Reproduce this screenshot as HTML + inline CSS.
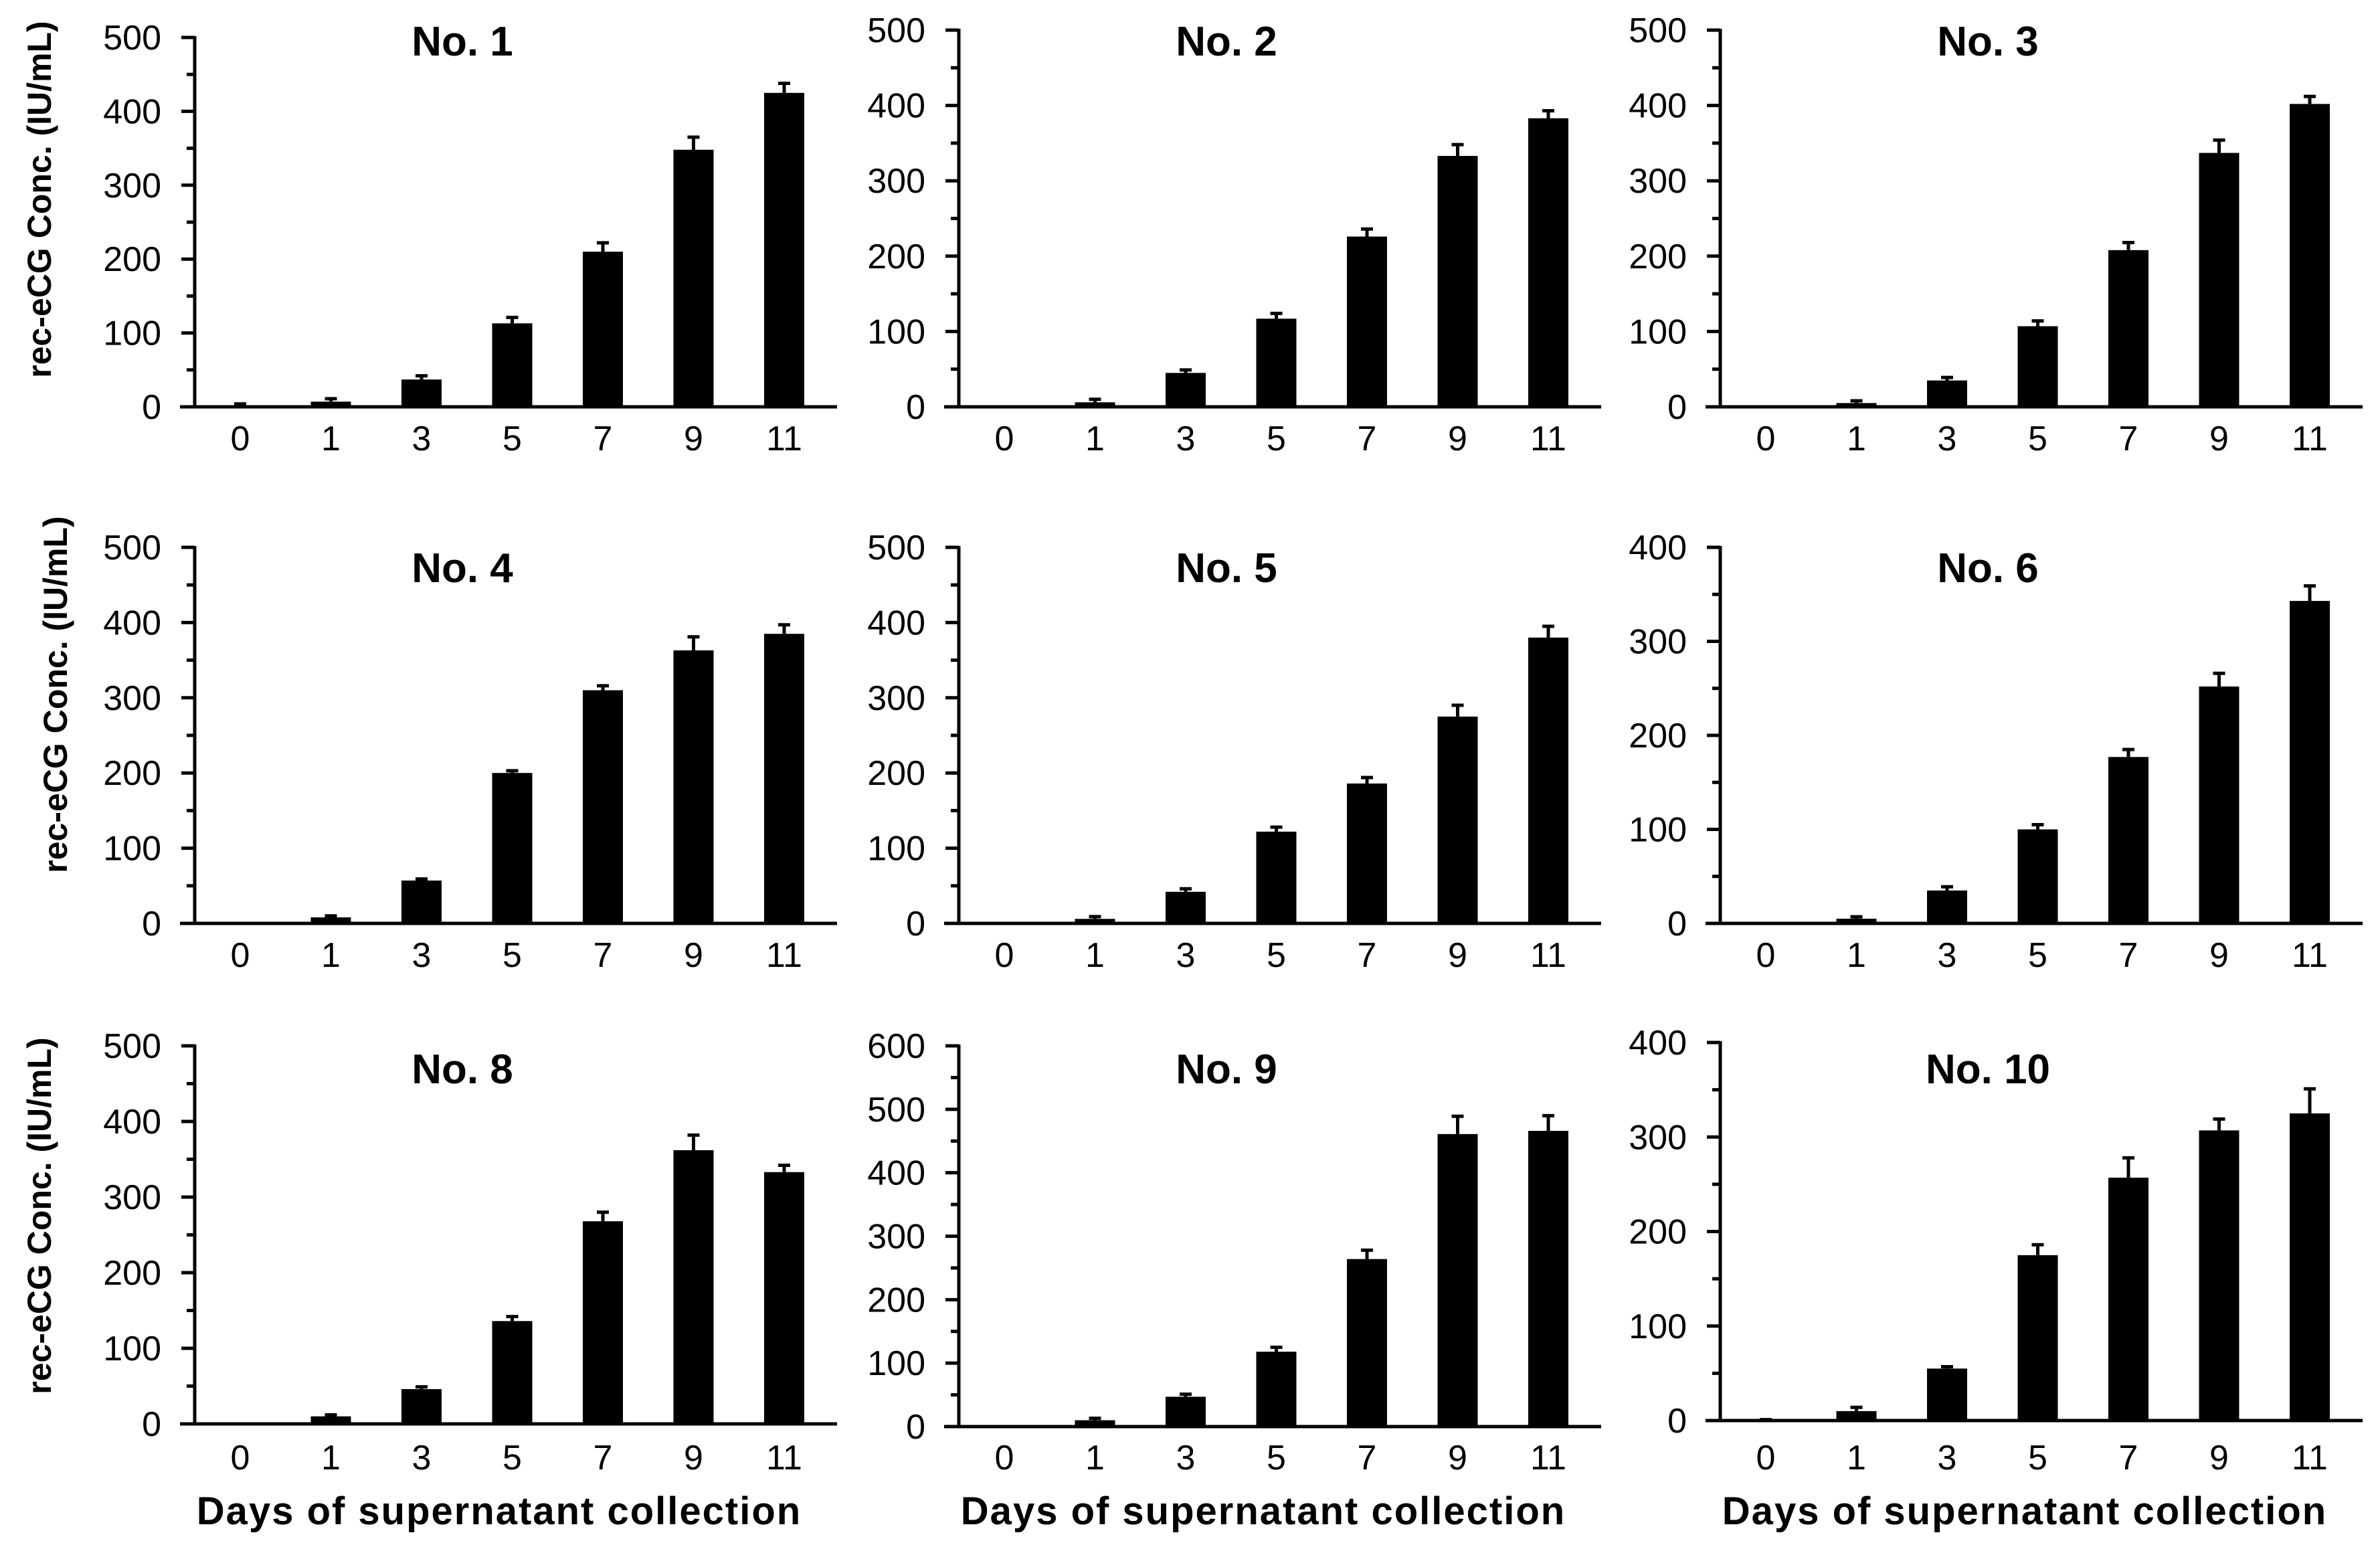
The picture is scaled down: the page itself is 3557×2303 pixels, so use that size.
<!DOCTYPE html>
<html><head><meta charset="utf-8"><style>
html,body{margin:0;padding:0;background:#fff}
svg{display:block}
text{font-family:"Liberation Sans",sans-serif;fill:#000}
</style></head><body>
<svg id="fig" xmlns="http://www.w3.org/2000/svg" width="3557" height="2303" viewBox="0 0 3557 2303"></svg>
<script>
const days = ["0","1","3","5","7","9","11"];
const titles = ["No. 1","No. 2","No. 3","No. 4","No. 5","No. 6","No. 8","No. 9","No. 10"];
const yMax = [500,500,500,500,500,400,500,600,400];
const v1 = [2,7,37,113,210,348,425];
const v2 = [0,6,45,117,226,333,383];
const v3 = [0,5,35,107,208,337,402];
const v4 = [0,8,57,200,310,363,385];
const v5 = [0,6,42,122,186,275,380];
const v6 = [0,5,35,100,177,252,343];
const v8 = [0,10,46,136,268,362,333];
const v9 = [0,10,47,118,264,461,466];
const v10 = [1,10,55,175,257,307,325];
const e1 = [2,4,5,8,12,17,13];
const e2 = [0,4,4,7,10,15,10];
const e3 = [0,3,4,7,10,17,10];
const e4 = [0,2,2,3,6,18,12];
const e5 = [0,3,4,6,8,15,15];
const e6 = [0,2,4,5,8,14,16];
const e8 = [0,2,3,6,12,20,9];
const e9 = [0,3,4,7,14,28,24];
const e10 = [0,4,2,11,21,12,26];
const values = [v1,v2,v3,v4,v5,v6,v8,v9,v10];
const errors = [e1,e2,e3,e4,e5,e6,e8,e9,e10];

// layout (pixels)
const colX = [291,1433,2571];
const rowBase = [[608,56],[608,45],[608,45],[1380,818],[1380,818],[1380,818],[2128,1563],[2132,1563],[2123,1558]];
const titleY = [61,61,61,848,848,848,1597,1597,1597];
const labelY = [655,655,655,1427,1427,1427,2178,2178,2178];
const yTitlePos = [[76,298],[100,1038],[76,1817]];

const NS="http://www.w3.org/2000/svg";
const svg=document.getElementById('fig');
function mk(tag,attrs,parent){const e=document.createElementNS(NS,tag);for(const k in attrs)e.setAttribute(k,attrs[k]);(parent||svg).appendChild(e);return e;}

for(let p=0;p<9;p++){
  const ax=colX[p%3], y0=rowBase[p][0], yT=rowBase[p][1], mx=yMax[p];
  const g=mk('g',{});
  
  
  const ys=v=>y0-(v/mx)*(y0-yT);
  const xs=i=>ax+68+i*135.5;
  values[p].forEach((v,i)=>{
    const h=Math.max(y0-ys(v),1);
    const b=mk('rect',{x:xs(i)-30,y:ys(v),width:60,height:h,fill:'#000'},g);
    
    
    const er=errors[p][i];
    if(er>0||v>0){
      const top=ys(v+er);
      const l=mk('line',{x1:xs(i),x2:xs(i),y1:ys(v),y2:top,stroke:'#000','stroke-width':5},g);
      
      
      mk('line',{x1:xs(i)-9,x2:xs(i)+9,y1:top,y2:top,stroke:'#000','stroke-width':5},g);
    }
  });
  const ya=mk('line',{x1:ax,x2:ax,y1:yT-2,y2:y0+2,stroke:'#000','stroke-width':5},g);
  
  
  const xa=mk('line',{x1:ax-22,x2:ax+960,y1:y0,y2:y0,stroke:'#000','stroke-width':5},g);
  
  
  for(let t=0;t<=mx;t+=50){
    const major=t%100===0;
    mk('line',{x1:ax-(major?20:12),x2:ax,y1:ys(t),y2:ys(t),stroke:'#000','stroke-width':5},g);
    if(major){
      const tl=mk('text',{x:ax-50,y:ys(t)+18,'text-anchor':'end','font-size':52},g);
      tl.textContent=t;
      
      
    }
  }
  days.forEach((d,i)=>{
    const tl=mk('text',{x:xs(i),y:labelY[p]+18,'text-anchor':'middle','font-size':52},g);
    tl.textContent=d;
    
    
  });
  const tt=mk('text',{x:ax+400,y:titleY[p]+22,'text-anchor':'middle','font-size':62,'font-weight':'bold'},g);
  tt.textContent=titles[p];
  
  
  if(p%3===0){
    const pos=yTitlePos[p/3];
    const yt=mk('text',{x:0,y:0,'text-anchor':'middle','font-size':50,'font-weight':'bold',transform:`translate(${pos[0]},${pos[1]}) rotate(-90)`},g);
    yt.textContent='rec-eCG Conc. (IU/mL)';
    
    
  }
  if(p>=6){
    const xt=mk('text',{x:ax+455,y:2278,'text-anchor':'middle','font-size':58,'font-weight':'bold','letter-spacing':2},g);
    xt.textContent='Days of supernatant collection';
    
    
  }
}
</script>
</body></html>
